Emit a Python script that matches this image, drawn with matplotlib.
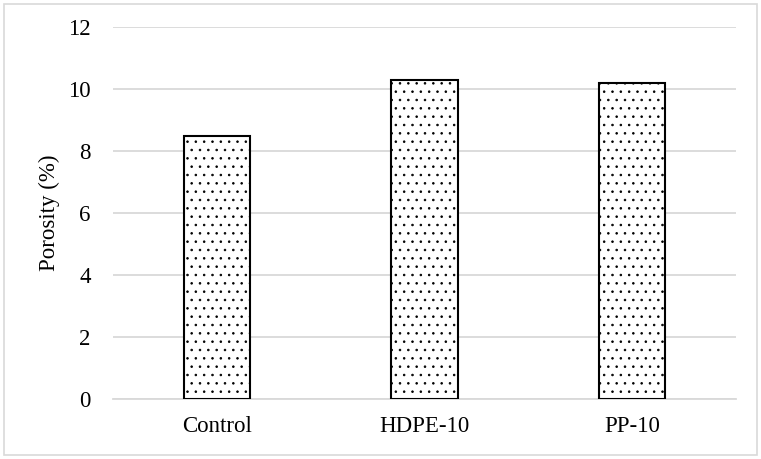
import matplotlib
matplotlib.use("Agg")
import matplotlib.pyplot as plt
from matplotlib.patches import Rectangle

categories = ["Control", "HDPE-10", "PP-10"]
porosity = [8.5, 10.3, 10.2]
yticks = [0, 2, 4, 6, 8, 10, 12]

plt.rcParams["font.family"] = ["Liberation Serif", "DejaVu Serif"]
plt.rcParams["hatch.linewidth"] = 0.6
plt.rcParams["hatch.color"] = "#222222"

fig = plt.figure(figsize=(7.61, 4.59), dpi=100)
ax = fig.add_axes([113 / 761, 1 - 399 / 459, (736 - 113) / 761, (399 - 27) / 459])

x = list(range(len(categories)))
ax.bar(x, porosity, width=0.32, color="white", edgecolor="black",
       linewidth=1.5, hatch="..", zorder=3)

ax.set_xlim(-0.5, 2.5)
ax.set_ylim(0, 12)
ax.set_yticks(yticks)
ax.set_xticks(x)
ax.set_xticklabels(categories)
ax.tick_params(axis="both", length=0, labelsize=16.5)
ax.tick_params(axis="y", pad=16)
ax.tick_params(axis="x", pad=12)
ax.yaxis.grid(True, color="#d9d9d9", lw=1.3)
ax.set_axisbelow(True)
for s in ["top", "right", "left"]:
    ax.spines[s].set_visible(False)
ax.spines["bottom"].set_color("#d9d9d9")
ax.spines["bottom"].set_linewidth(1.3)
ax.set_ylabel("Porosity (%)", fontsize=16.5, labelpad=6)

# light border round the whole chart
fig.patches.append(Rectangle((4 / 761, 4 / 459), 753 / 761, 451 / 459,
                             transform=fig.transFigure, fill=False,
                             edgecolor="#d9d9d9", lw=1.2))

fig.savefig("out.png", dpi=100)
